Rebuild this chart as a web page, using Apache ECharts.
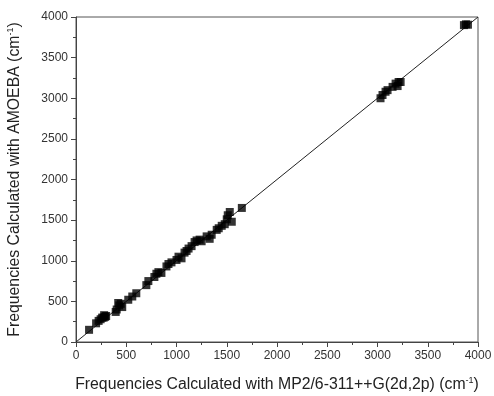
<!DOCTYPE html>
<html><head><meta charset="utf-8">
<script src="https://cdn.jsdelivr.net/npm/echarts@6/dist/echarts.min.js"></script>
<style>html,body{margin:0;padding:0;background:#fff}#c{width:494px;height:396px}</style>
</head><body><div id="c"></div>
<script>
var mp2Freq = [130,200,225,245,260,275,290,300,280,395,405,420,430,445,460,520,560,600,700,720,780,800,820,850,900,920,950,1000,1020,1050,1080,1100,1120,1150,1180,1200,1230,1250,1300,1330,1350,1400,1420,1450,1480,1500,1510,1530,1550,1650,3030,3050,3080,3100,3150,3200,3210,3230,3180,3860,3880,3900];
var amoebaFreq = [150,230,260,280,300,300,310,320,330,370,400,480,450,470,430,520,560,600,700,750,800,840,860,850,930,960,980,1010,1050,1030,1100,1120,1150,1180,1230,1250,1260,1240,1300,1270,1320,1380,1400,1430,1450,1510,1560,1600,1480,1650,3000,3040,3080,3100,3140,3150,3200,3200,3180,3900,3910,3905];
var lineX = [0,4000];
var lineY = [0,4000];
var xTitle = 'Frequencies Calculated with MP2/6-311++G(2d,2p) (cm';
var yTitle = 'Frequencies Calculated with AMOEBA (cm';

var chart = echarts.init(document.getElementById('c'));
var pts = mp2Freq.map(function(v,i){return [v, amoebaFreq[i]];});
var axisCommon = {
  min:0, max:4000, interval:500,
  axisLine:{show:true,lineStyle:{color:'#444',width:1}},
  axisTick:{show:true,inside:false,length:5,lineStyle:{color:'#444'}},
  minorTick:{show:true,splitNumber:2,length:3,lineStyle:{color:'#444'}},
  splitLine:{show:false},
  axisLabel:{color:'#333',fontSize:12,fontFamily:'Liberation Sans, Arial',formatter:function(v){return String(v);}},
  nameLocation:'middle',
  nameTextStyle:{color:'#222',fontSize:16,fontFamily:'Liberation Sans, Arial',
    rich:{n:{fontSize:15.8,color:'#222',fontFamily:'Liberation Sans, Arial',lineHeight:18},
          s:{fontSize:9,color:'#222',fontFamily:'Liberation Sans, Arial',verticalAlign:'top',lineHeight:18,padding:[0,0,7,0]}}}
};
chart.setOption({
  animation:false,
  backgroundColor:'#fff',
  grid:{left:76,right:16,top:17,bottom:54,show:true,borderColor:'#555',borderWidth:1,containLabel:false,outerBoundsMode:'none'},
  xAxis:Object.assign({}, axisCommon, {type:'value', name:'{n|'+xTitle+'}{s|-1}{n|)}', nameGap:34}),
  yAxis:Object.assign({}, axisCommon, {type:'value', name:'{n|'+yTitle+'}{s|-1}{n|)}', nameGap:52}),
  series:[
    {type:'line', data:lineX.map(function(v,i){return [v,lineY[i]];}), symbol:'none',
     lineStyle:{color:'#222',width:1}, z:1},
    {type:'scatter', data:pts, symbol:'rect', symbolSize:8, itemStyle:{color:'#000'}, z:2}
  ]
});
</script></body></html>
